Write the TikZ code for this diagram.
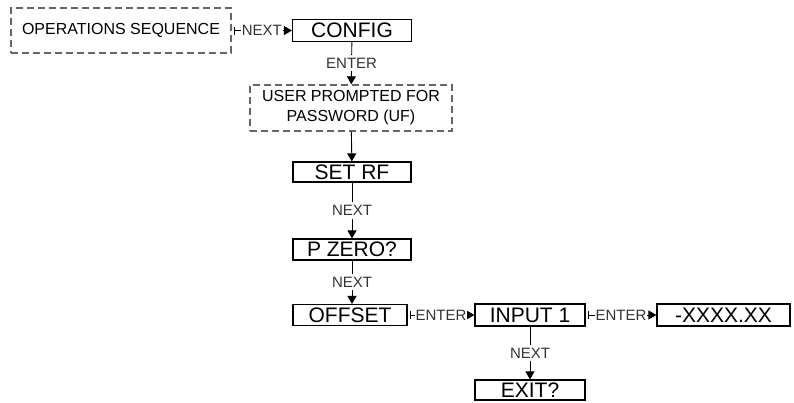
\documentclass[tikz,border=0pt]{standalone}
\usepackage{fontspec}
\setmainfont{Liberation Sans}
\usetikzlibrary{arrows.meta}

\begin{document}
\begin{tikzpicture}[x=1pt,y=1pt,
    menu/.style={draw,line width=1.2pt,inner sep=0pt,font=\fontsize{21}{22}\selectfont},
    prompt/.style={draw=black!60,line width=1.4pt,dash pattern=on 7pt off 4pt,inner sep=0pt,
      align=center,font=\fontsize{16}{20}\selectfont},
    keylabel/.style={fill=white,inner xsep=1pt,inner ysep=3pt,text=black!80,font=\fontsize{15}{16}\selectfont},
    link/.style={line width=0.9pt,-{Triangle[width=9pt,length=8pt]}},
    hlink/.style={line width=0.9pt,{Bar[width=8pt]}-{Triangle[width=9pt,length=8pt]},shorten <=2pt}]
  \useasboundingbox (0,0) rectangle (794,-402);
  % dashed boxes
  \node[prompt,minimum width=220pt,minimum height=45pt] (ops) at (121,-30.5) {OPERATIONS SEQUENCE};
  \node[prompt,minimum width=202pt,minimum height=46pt] (user) at (351,-108) {USER PROMPTED FOR\\PASSWORD (UF)};
  % menu boxes
  \node[menu,minimum width=119pt,minimum height=22pt] (config) at (352,-30.5) {CONFIG};
  \node[menu,minimum width=118pt,minimum height=20pt] (setrf) at (352,-172) {SET RF};
  \node[menu,minimum width=118pt,minimum height=21pt] (pzero) at (352,-249.5) {P ZERO?};
  \node[menu,minimum width=114pt,minimum height=21pt] (offset) at (350,-315) {OFFSET};
  \node[menu,minimum width=110pt,minimum height=22pt] (input) at (530,-315) {INPUT 1};
  \node[menu,minimum width=133pt,minimum height=22pt] (value) at (723.5,-315) {-XXXX.XX};
  \node[menu,minimum width=110pt,minimum height=20pt] (exit) at (530,-390) {EXIT?};
  % connectors
  \draw[hlink] (ops) -- node[keylabel] {NEXT} (config);
  \draw[link] (config) -- node[keylabel] {ENTER} (user);
  \draw[link] (user) -- (setrf);
  \draw[link] (setrf) -- node[keylabel] {NEXT} (pzero);
  \draw[link] (pzero) -- node[keylabel] {NEXT} (pzero |- offset.north);
  \draw[hlink] (offset) -- node[keylabel] {ENTER} (input);
  \draw[hlink] (input) -- node[keylabel] {ENTER} (value);
  \draw[link] (input) -- node[keylabel] {NEXT} (exit);
\end{tikzpicture}
\end{document}
